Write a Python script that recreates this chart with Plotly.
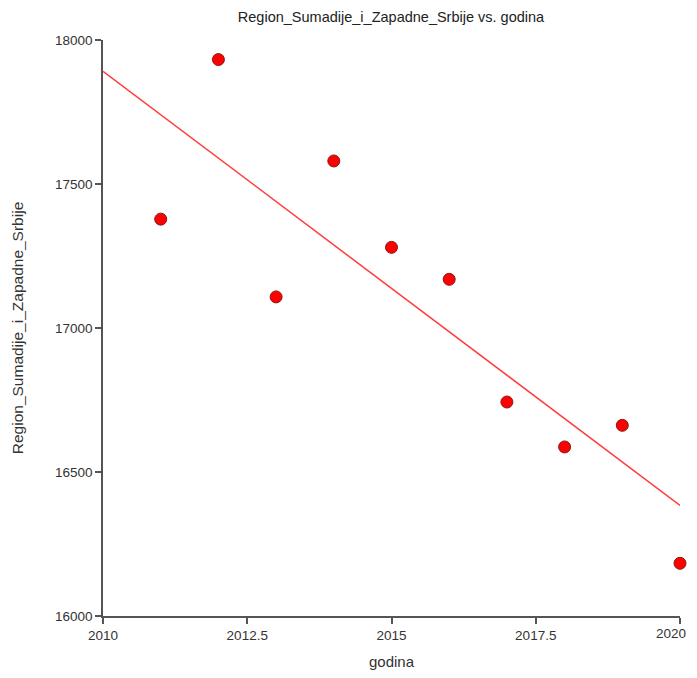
import numpy as np
import plotly.graph_objects as go

years = [2011, 2012, 2013, 2014, 2015, 2016, 2017, 2018, 2019, 2020]
values = [17378, 17932, 17108, 17580, 17280, 17169, 16743, 16587, 16662, 16183]
x_ticks = [2010, 2012.5, 2015, 2017.5, 2020]
x_ticktext = ["2010", "2012.5", "2015", "2017.5", "2020"]
y_ticks = [16000, 16500, 17000, 17500, 18000]
y_ticktext = ["16000", "16500", "17000", "17500", "18000"]

slope, intercept = np.polyfit(years, values, 1)
fit_x = [2010, 2020]
fit_y = [slope * v + intercept for v in fit_x]

fig = go.Figure()
fig.add_trace(go.Scatter(x=fit_x, y=fit_y, mode="lines",
                         line=dict(color="#ff3b3b", width=1.5),
                         showlegend=False, hoverinfo="skip", cliponaxis=False))
fig.add_trace(go.Scatter(x=years, y=values, mode="markers",
                         marker=dict(color="#ff0000", size=12,
                                     line=dict(color="#8a1a1a", width=1)),
                         showlegend=False, cliponaxis=False))

W, H = 689, 662
FONT = "Liberation Sans, Arial, sans-serif"
axis_font = dict(family=FONT, size=13.5, color="#333333")

# last tick label drawn as an annotation so it stays inside the page edge
axis_ticktext = x_ticktext[:-1] + [""]
fig.add_annotation(x=x_ticks[-1], xref="x", y=0, yref="paper",
                   text=x_ticktext[-1], showarrow=False,
                   xanchor="right", yanchor="top", xshift=8, yshift=-8,
                   font=axis_font)

fig.update_layout(
    width=W, height=H,
    margin=dict(l=95, r=17, t=32, b=54),
    paper_bgcolor="white", plot_bgcolor="white",
    title=dict(text="Region_Sumadije_i_Zapadne_Srbije vs. godina",
               x=383 / W, xanchor="center",
               y=1 - 9 / H, yanchor="middle", yref="container",
               font=dict(family=FONT, size=14.5, color="#222222")),
    xaxis=dict(range=[2010, 2020], tickvals=x_ticks, ticktext=axis_ticktext,
               showgrid=False, zeroline=False, automargin=False,
               showline=True, linecolor="#555555", linewidth=1.5,
               ticks="outside", ticklen=6, tickcolor="#555555", tickwidth=1.5,
               tickfont=axis_font,
               title=dict(text="godina", standoff=18,
                          font=dict(family=FONT, size=15, color="#333333"))),
    yaxis=dict(range=[16000, 18000], tickvals=y_ticks, ticktext=y_ticktext,
               showgrid=False, zeroline=False, automargin=False,
               showline=True, linecolor="#555555", linewidth=1.5,
               ticks="outside", ticklen=6, tickcolor="#555555", tickwidth=1.5,
               tickfont=axis_font,
               title=dict(text="Region_Sumadije_i_Zapadne_Srbije", standoff=28,
                          font=dict(family=FONT, size=15.5, color="#333333"))),
)

fig.write_html("out.html")
